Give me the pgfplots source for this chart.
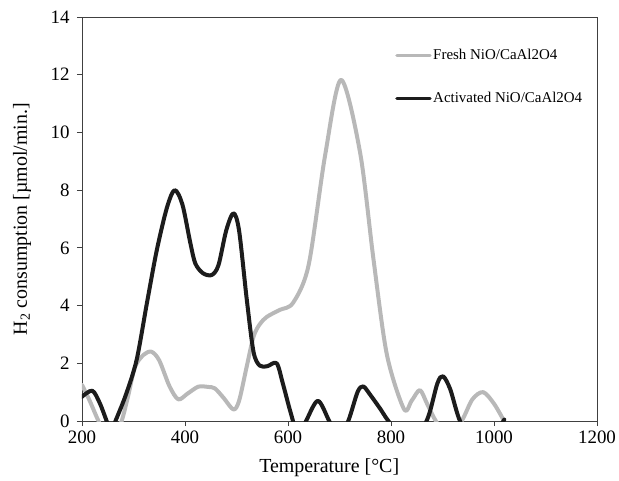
\documentclass[border=0pt]{standalone}
\usepackage{pgfplots}
\pgfplotsset{compat=1.18}
\usepackage{fontspec}
\setmainfont{Liberation Serif}

\definecolor{freshgray}{RGB}{184,184,184}
\definecolor{actblack}{RGB}{28,28,28}
\definecolor{axisgray}{RGB}{64,64,64}

\begin{document}
\begin{tikzpicture}
\useasboundingbox (-82bp,-60bp) rectangle (537bp,421bp);
\begin{axis}[
  width=515bp, height=404bp, scale only axis,
  xmin=200, xmax=1200, ymin=0, ymax=14,
  xtick={200,400,...,1200}, ytick={0,2,...,14},
  tick pos=left, tick align=outside,
  major tick length=5bp,
  axis line style={axisgray, line width=0.9bp},
  every tick/.style={axisgray, line width=0.9bp},
  /pgf/number format/assume math mode=true,
  /pgf/number format/1000 sep={},
  tick label style={font=\fontsize{19}{22}\selectfont, text=black},
  xticklabel style={anchor=base, yshift=-17bp},
  yticklabel style={anchor=east, xshift=-4bp},
  xlabel={Temperature [°C]},
  ylabel={H\textsubscript{2} consumption [µmol/min.]},
  label style={font=\fontsize{20}{24}\selectfont},
  xlabel style={at={(axis description cs:0.48,-0.1287)}, anchor=base},
  ylabel style={at={(axis description cs:-0.1165,0.5)}, anchor=center, rotate=0},
  legend cell align=left,
  legend image code/.code={\draw[#1, line width=3.5bp] (0bp,0bp) -- (33bp,0bp);},
  legend style={draw=none, fill=none, at={(axis cs:802,13.04)}, anchor=north west,
    font=\fontsize{15}{18}\selectfont, row sep=26bp,
    nodes={inner sep=1.5bp, text height=11bp, text depth=3bp}},
  every axis plot/.append style={line width=4bp, line cap=round, line join=round},
]
% Fresh catalyst reduction profile
\addplot[freshgray, smooth] coordinates {
  (200,1.25) (215,0.70) (232,0.00) (250,-0.60) (265,-0.40) (277,0.00)
  (290,0.90) (303,1.88) (320,2.30) (335,2.40) (350,2.10) (370,1.20)
  (387,0.75) (405,0.95) (426,1.19) (445,1.18) (458,1.13) (475,0.80)
  (494,0.40) (505,0.70) (520,1.90) (533,2.92) (545,3.35) (559,3.61)
  (584,3.85) (610,4.10) (640,5.40) (672,9.20) (703,11.82) (740,9.30)
  (766,5.60) (792,2.30) (825,0.42) (840,0.70) (856,1.07) (870,0.60)
  (887,0.00) (910,-0.50) (937,0.00) (958,0.75) (979,1.00) (1000,0.60)
  (1018,0.05)
};
\addlegendentry{Fresh NiO/CaAl2O4}
% Activated catalyst reduction profile
\addplot[actblack, smooth] coordinates {
  (200,0.84) (220,1.05) (235,0.60) (250,-0.10) (257,-0.35) (265,0.00)
  (285,0.90) (306,2.11) (326,4.08) (345,5.90) (365,7.40) (380,8.00)
  (395,7.50) (410,6.20) (420,5.46) (435,5.12) (452,5.06) (465,5.40)
  (480,6.60) (494,7.20) (505,6.60) (520,4.20) (533,2.40) (545,1.92)
  (560,1.90) (578,2.00) (590,1.30) (605,0.30) (620,-0.50) (635,0.00)
  (658,0.70) (680,0.00) (698,-0.60) (717,0.00) (735,1.00) (746,1.20)
  (760,0.90) (780,0.40) (795,0.00) (832,-0.80) (869,0.00) (890,1.30)
  (901,1.55) (915,1.10) (934,0.00) (960,-0.60) (1000,-0.40) (1020,0.05)
};
\addlegendentry{Activated NiO/CaAl2O4}
\end{axis}
\end{tikzpicture}
\end{document}
